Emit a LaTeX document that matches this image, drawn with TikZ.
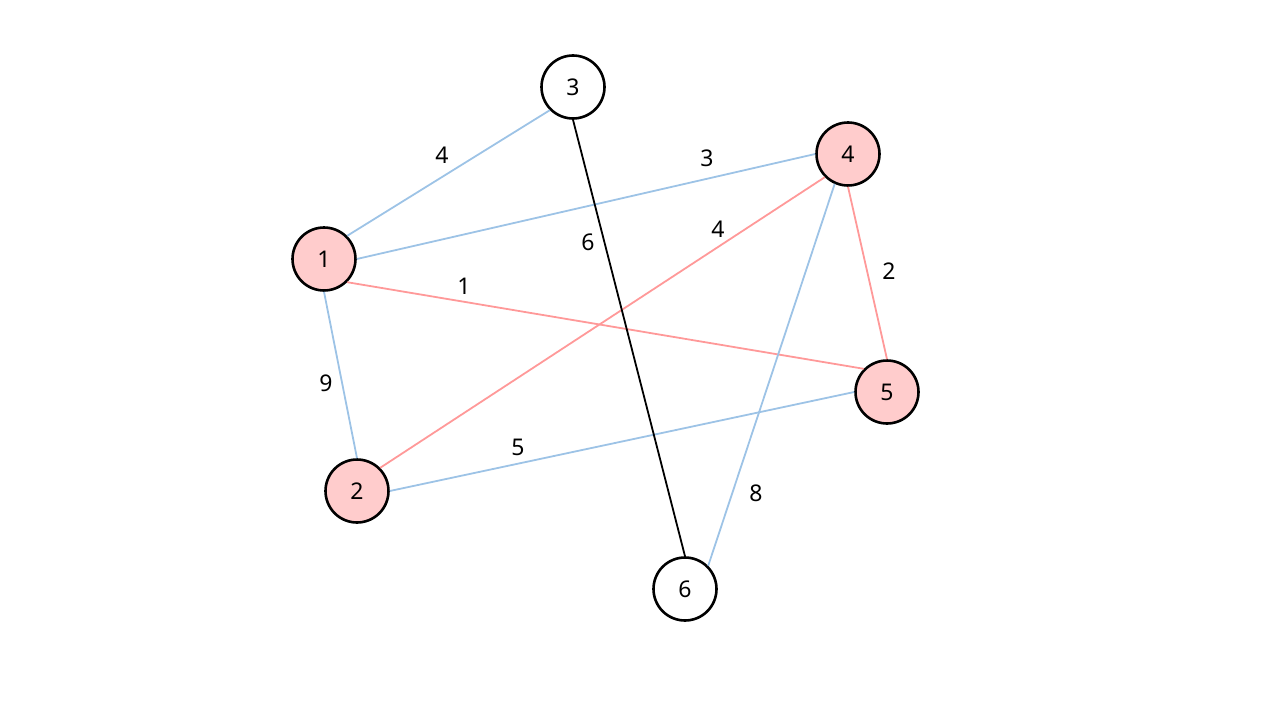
\documentclass[tikz,border=0pt]{standalone}
\usepackage{fontspec}
\setmainfont{Noto Sans}
\usepackage{tikz}
\usetikzlibrary{positioning}
\definecolor{pinkfill}{HTML}{FFCCCC}
\definecolor{blueedge}{HTML}{9DC3E6}
\definecolor{rededge}{HTML}{FF9999}
\tikzstyle{vertex} = [draw=black, line width=2.6pt, circle, minimum size=63pt,
    inner sep=0pt, font=\fontsize{23}{27}\selectfont]
\tikzstyle{marked} = [vertex, fill=pinkfill]
\tikzstyle{weight} = [font=\fontsize{23}{27}\selectfont, inner sep=0pt]
\tikzstyle{blueline} = [draw=blueedge, line width=1.8pt]
\tikzstyle{redline} = [draw=rededge, line width=1.8pt]
\tikzstyle{blackline} = [draw=black, line width=1.8pt]

\begin{document}
\begin{tikzpicture}[x=1pt,y=-1pt]
\useasboundingbox (0,0) rectangle (1280,720);

% vertices
\node [marked] (v1) at (324,259) {1};
\node [marked] (v2) at (357,491) {2};
\node [vertex] (v3) at (573,87) {3};
\node [marked] (v4) at (848,154) {4};
\node [marked] (v5) at (887,392) {5};
\node [vertex] (v6) at (685,589) {6};

% edges
\draw [blueline] (v1.north east) -- (v3.south west);
\draw [blueline] (v1.east) -- (v4.west);
\draw [redline] (v1.south east) -- (v5.north west);
\draw [blueline] (v1.south) -- (v2.north);
\draw [redline] (v2.north east) -- (v4.south west);
\draw [blueline] (v2.east) -- (v5.west);
\draw [blackline] (v3.south) -- (v6.north);
\draw [redline] (v4.south) -- (v5.north);
\draw [blueline] (v4.-114) -- (v6.north east);

% weights
\node [weight] (w13) at (442,155) {4};
\node [weight] (w14) at (707,158) {3};
\node [weight] (w36) at (588,242) {6};
\node [weight] (w24) at (718,229) {4};
\node [weight] (w15) at (464,286) {1};
\node [weight] (w45) at (889,271) {2};
\node [weight] (w12) at (326,383) {9};
\node [weight] (w25) at (518,447) {5};
\node [weight] (w46) at (756,493) {8};

\end{tikzpicture}
\end{document}
